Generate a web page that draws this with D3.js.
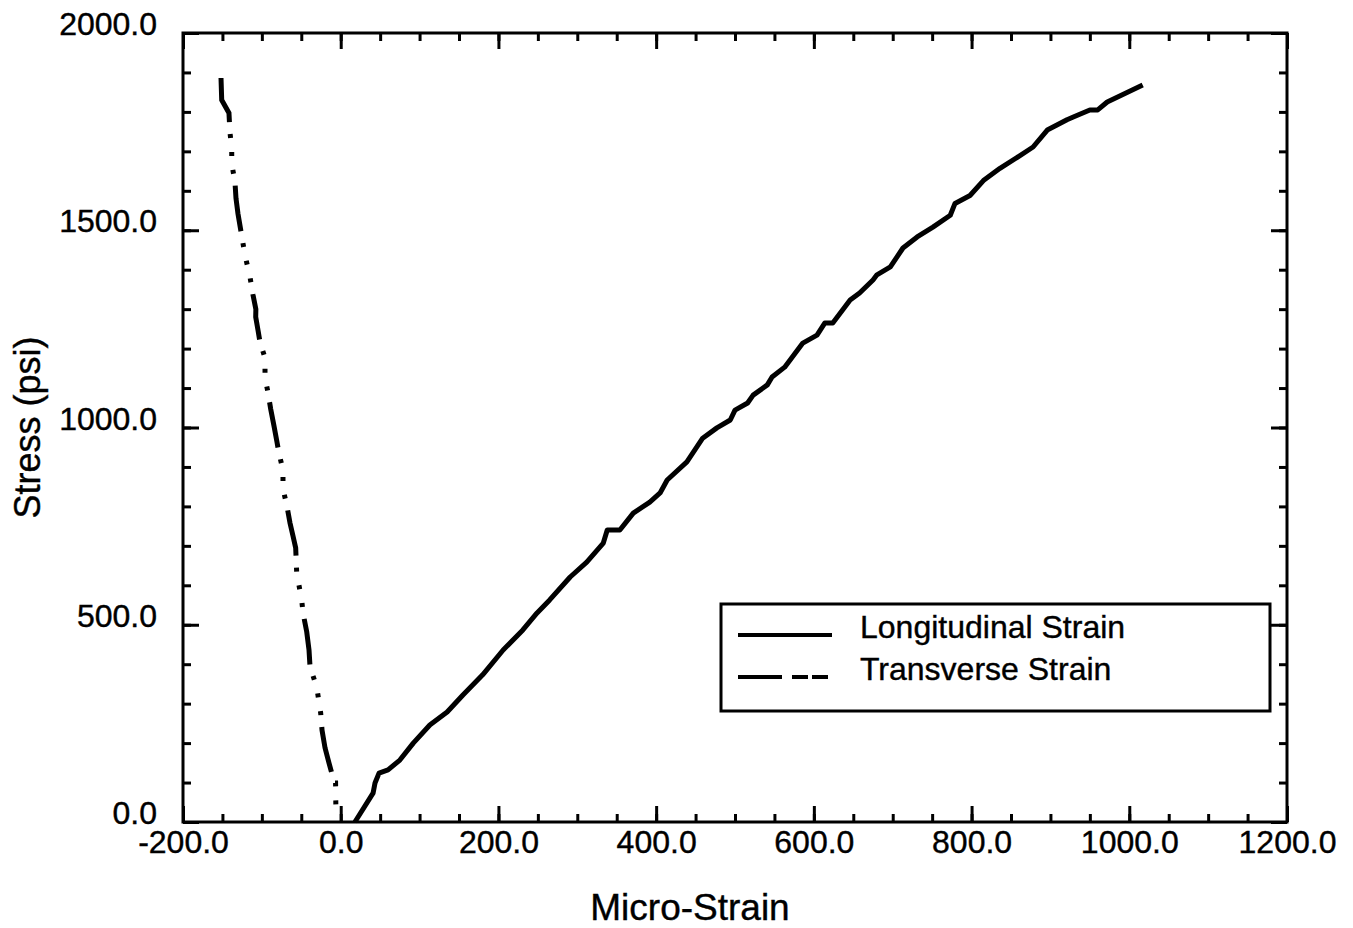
<!DOCTYPE html>
<html>
<head>
  <meta charset="utf-8">
  <title>Stress vs Micro-Strain</title>
  <style type="text/css">
    body{
      margin:0;
      background:#fff;
    }
    text{
      font-family:"Liberation Sans", Arial, sans-serif;
      fill:#000;
      stroke:#000;
      stroke-width:0.4px;
    }
  </style>
</head>
<body>
<div id="chart"></div>
<script src="https://cdn.jsdelivr.net/npm/d3@7"></script>
<script type="text/javascript">
  // longitudinal gauge
  var strainL = [18, 41, 43.5, 48.6, 60, 75, 92, 113, 135, 155, 180, 206, 231, 249, 265, 291, 312, 333, 338, 354, 371,
                 392, 405, 414, 439, 459, 477, 494, 500, 516, 523, 541, 547, 563, 586, 604, 614, 624, 646, 658, 675,
                 680, 697, 713, 731, 751, 773, 779, 798, 815, 836, 858, 878, 896, 921, 929, 950, 960, 972, 1017];
  var stressL = [0, 73, 99, 124, 132, 157, 200, 246, 279, 322, 373, 436, 487, 530, 563, 621, 659, 707, 740, 740, 783,
                 811, 834, 867, 913, 973, 999, 1019, 1044, 1062, 1082, 1108, 1128, 1153, 1214, 1234, 1265, 1265, 1323, 1341, 1374,
                 1387, 1407, 1455, 1483, 1508, 1538, 1568, 1588, 1626, 1657, 1685, 1711, 1754, 1780, 1787, 1805, 1805, 1825, 1868];

  // transverse gauge
  var strainT = [-151.8, -150.9, -141.7, -140.4, -138.2, -138.2, -134.1, -132.8, -130.3, -121.4, -115, -111.2, -107.6,
                 -107.8, -104.9, -102.4, -96, -96, -92.6, -88.8, -84.6, -80.8, -78.3, -73.2, -73.2, -68.5, -64.3,
                 -60.5, -57.1, -55.8, -49.5, -47.8, -43.1, -40.2, -38.9, -30.4, -25.4, -23.7, -19.9, -14.9, -8, -6.5, -6];
  var stressT = [1886, 1830, 1797, 1747, 1708, 1669, 1622, 1581, 1542, 1437, 1381, 1336, 1300,
                 1280, 1247, 1217, 1176, 1125, 1093, 1047, 1004, 963, 935, 892, 844, 804, 758,
                 725, 695, 631, 563, 530, 482, 436, 393, 342, 276, 233, 188, 150, 99, 99, 10];

  var xTicks = [-200, 0, 200, 400, 600, 800, 1000, 1200];
  var yTicks = [0, 500, 1000, 1500, 2000];
  var xMinor = d3.range(-200, 1201, 50);
  var yMinor = d3.range(0, 2001, 100);
  var seriesNames = ["Longitudinal Strain", "Transverse Strain"];

  var W = 1353, H = 928;
  var padL = 183, padR = 1287, padT = 33, padB = 822;

  var svg = d3.select("#chart").append("svg")
      .attr("width", W)
      .attr("height", H);

  var x = d3.scaleLinear().domain([-200, 1200]).range([padL, padR]);
  var y = d3.scaleLinear().domain([0, 2000]).range([padB, padT]);
  // plain hyphen for the minus, like the original
  var fmt = function(d){ return d.toFixed(1); };

  // minor ticks, all four sides, pointing in
  function minorAxis(axis, tr){
    svg.append("g")
      .attr("transform", tr)
      .call(axis.tickSizeInner(-8).tickSizeOuter(0).tickFormat(""))
      .call(function(g){ g.select(".domain").remove(); })
      .selectAll("line").attr("stroke-width", 3);
  }
  minorAxis(d3.axisBottom(x).tickValues(xMinor), "translate(0," + padB + ")");
  minorAxis(d3.axisTop(x).tickValues(xMinor), "translate(0," + padT + ")");
  minorAxis(d3.axisLeft(y).tickValues(yMinor), "translate(" + padL + ",0)");
  minorAxis(d3.axisRight(y).tickValues(yMinor), "translate(" + padR + ",0)");

  // major ticks + labels
  var gx = svg.append("g")
      .attr("transform", "translate(0," + padB + ")")
      .call(d3.axisBottom(x).tickValues(xTicks).tickSizeInner(-16).tickSizeOuter(0).tickPadding(8).tickFormat(fmt));
  var gy = svg.append("g")
      .attr("transform", "translate(" + padL + ",0)")
      .call(d3.axisLeft(y).tickValues(yTicks).tickSizeInner(-16).tickSizeOuter(0).tickPadding(26).tickFormat(fmt));
  svg.append("g")
      .attr("transform", "translate(0," + padT + ")")
      .call(d3.axisTop(x).tickValues(xTicks).tickSizeInner(-16).tickSizeOuter(0).tickFormat(""));
  svg.append("g")
      .attr("transform", "translate(" + padR + ",0)")
      .call(d3.axisRight(y).tickValues(yTicks).tickSizeInner(-16).tickSizeOuter(0).tickFormat(""));

  svg.selectAll(".domain").remove();
  svg.selectAll(".tick line").attr("stroke-width", 3).attr("stroke", "#000");
  svg.selectAll(".tick text")
      .style("font-size", "32px")
      .style("font-family", "Liberation Sans, Arial, sans-serif")
      .attr("fill", "#000");
  gy.selectAll(".tick text").attr("dy", "0.05em");

  // frame
  svg.append("rect")
      .attr("x", padL).attr("y", padT)
      .attr("width", padR - padL).attr("height", padB - padT)
      .attr("fill", "none")
      .attr("stroke", "#000")
      .attr("stroke-width", 3);

  // curves
  var line = d3.line()
      .x(function(d){ return x(d[0]); })
      .y(function(d){ return y(d[1]); });

  svg.append("path")
      .datum(d3.zip(strainL, stressL))
      .attr("d", line)
      .attr("fill", "none")
      .attr("stroke", "#000")
      .attr("stroke-width", 5)
      .attr("stroke-linejoin", "round");

  svg.append("path")
      .datum(d3.zip(strainT, stressT))
      .attr("d", line)
      .attr("fill", "none")
      .attr("stroke", "#000")
      .attr("stroke-width", 5)
      .attr("stroke-dasharray", "46,12,4,14,4,14,4,12");

  // axis titles
  svg.append("text")
      .attr("x", 690)
      .attr("y", 920)
      .style("text-anchor", "middle")
      .style("font-size", "37px")
      .text("Micro-Strain");

  svg.append("text")
      .attr("transform", "translate(40," + ((padT + padB) / 2) + ") rotate(-90)")
      .style("text-anchor", "middle")
      .style("font-size", "36px")
      .text("Stress (psi)");

  // legend
  var lg = svg.append("g");
  lg.append("rect")
      .attr("x", 721).attr("y", 604)
      .attr("width", 549).attr("height", 107)
      .attr("fill", "#fff")
      .attr("stroke", "#000")
      .attr("stroke-width", 3);

  var dashes = [null, "44,10,16,4,16"];
  seriesNames.forEach(function(name, i){
    var base = 638 + i * 42;
    lg.append("line")
      .attr("x1", 738).attr("x2", 832)
      .attr("y1", base - 3).attr("y2", base - 3)
      .attr("stroke", "#000")
      .attr("stroke-width", 4)
      .attr("stroke-dasharray", dashes[i]);
    lg.append("text")
      .attr("x", 860)
      .attr("y", base)
      .style("font-size", "32px")
      .text(name);
  });
</script>
</body>
</html>
